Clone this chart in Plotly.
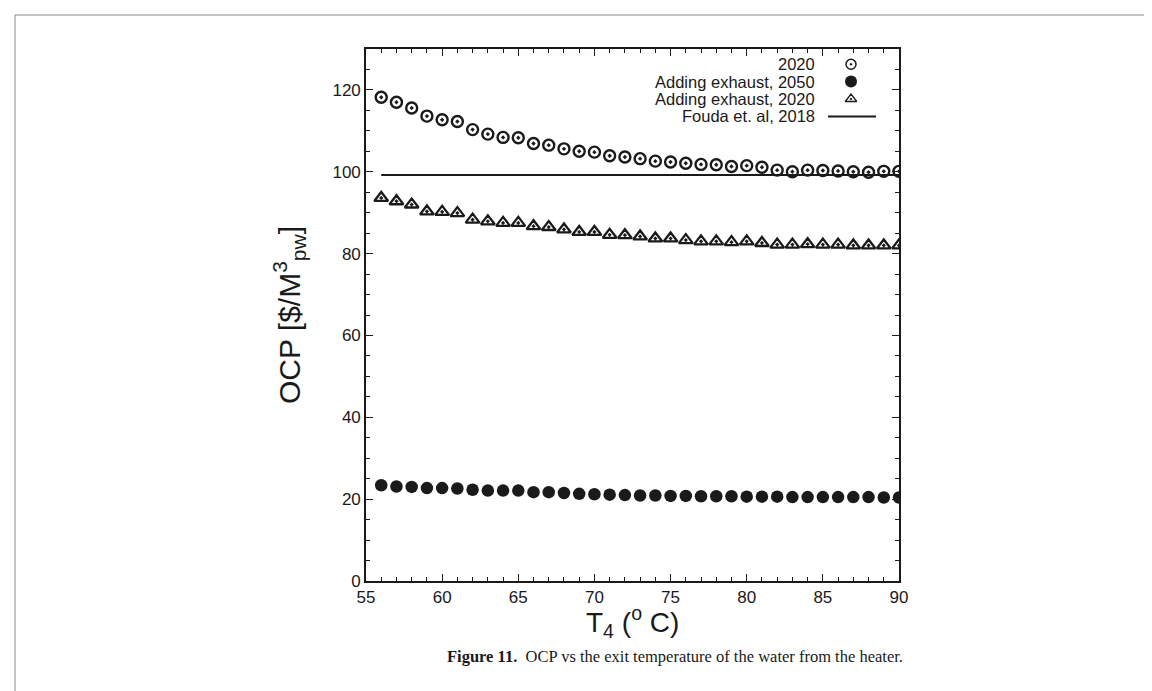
import plotly.graph_objects as go

# ---------------- data ----------------
temps = list(range(56, 91))
ocp_2020 = [118.2, 117.0, 115.6, 113.6, 112.7, 112.3, 110.3, 109.2, 108.4, 108.3,
            106.9, 106.5, 105.6, 105.0, 104.8, 103.9, 103.6, 103.2, 102.6, 102.4,
            102.1, 101.8, 101.7, 101.3, 101.5, 101.1, 100.4, 100.0, 100.4, 100.3,
            100.2, 100.0, 99.9, 100.1, 100.1]
ocp_exh_2050 = [23.4, 23.1, 23.0, 22.7, 22.7, 22.6, 22.3, 22.1, 22.1, 22.1,
                21.7, 21.7, 21.5, 21.3, 21.2, 21.1, 21.0, 20.9, 20.9, 20.8,
                20.8, 20.7, 20.7, 20.7, 20.6, 20.6, 20.6, 20.5, 20.5, 20.5,
                20.5, 20.5, 20.5, 20.4, 20.4]
ocp_exh_2020 = [93.6, 92.8, 92.0, 90.3, 90.2, 89.9, 88.3, 87.9, 87.5, 87.5,
                86.7, 86.5, 85.9, 85.3, 85.3, 84.6, 84.5, 84.2, 83.7, 83.7,
                83.3, 83.0, 83.0, 82.8, 83.0, 82.6, 82.2, 82.2, 82.3, 82.2,
                82.2, 82.0, 82.0, 82.0, 82.0]
fouda_x = [56, 90]
fouda_y = [99.2, 99.2]

legend_labels = ["2020", "Adding exhaust, 2050", "Adding exhaust, 2020", "Fouda et. al, 2018"]

x_range = [55, 90]
y_range = [0, 130]

# ---------------- layout geometry ----------------
W, H = 1152, 691
L, R, T, B = 358, 891, 41, 573
INK = "#1a1a1a"
FONT = "Liberation Sans, Arial, Helvetica, sans-serif"


def px_x(px):
    return (px - L) / (R - L)


def px_y(py):
    return (B - py) / (B - T)


fig = go.Figure()

fig.add_trace(go.Scatter(x=fouda_x, y=fouda_y, mode="lines",
                         line=dict(color=INK, width=2), showlegend=False))
fig.add_trace(go.Scatter(x=temps, y=ocp_2020, mode="markers",
                         marker=dict(symbol="circle-open-dot", size=11, color=INK,
                                     line=dict(width=2.4, color=INK)),
                         showlegend=False))
fig.add_trace(go.Scatter(x=temps, y=ocp_exh_2050, mode="markers",
                         marker=dict(symbol="circle", size=12.5, color=INK,
                                     line=dict(width=0)),
                         showlegend=False))
fig.add_trace(go.Scatter(x=temps, y=ocp_exh_2020, mode="markers",
                         marker=dict(symbol="triangle-up-open-dot", size=12, color=INK,
                                     line=dict(width=2.3, color=INK)),
                         showlegend=False))

# ----- manual legend (text right, symbol on right) -----
leg_rows = [56.2, 73.6, 91.0, 108.4]
leg_text_right = 808
leg_sym_x = 843
leg_syms = [("circle-open-dot", 10, 1.5), ("circle", 12, 0), ("triangle-up-open-dot", 10, 1.3)]
annotations = []
for lab, row in zip(legend_labels, leg_rows):
    annotations.append(dict(x=px_x(leg_text_right), y=px_y(row), xref="paper", yref="paper",
                            text=lab, showarrow=False, xanchor="right", yanchor="middle",
                            borderpad=0,
                            font=dict(family=FONT, size=16.5, color=INK)))
for (sym, sz, lw), row in zip(leg_syms, leg_rows[:3]):
    fig.add_trace(go.Scatter(x=[px_x(leg_sym_x)], y=[px_y(row)], mode="markers",
                             xaxis="x2", yaxis="y2", showlegend=False, hoverinfo="skip",
                             marker=dict(symbol=sym, size=sz, color=INK,
                                         line=dict(width=lw, color=INK))))

shapes = [
    dict(type="line", xref="paper", yref="paper", x0=px_x(820), x1=px_x(868),
         y0=px_y(leg_rows[3]), y1=px_y(leg_rows[3]), line=dict(color=INK, width=2)),
    dict(type="rect", xref="paper", yref="paper", x0=px_x(7), x1=px_x(1145),
         y0=px_y(685), y1=px_y(7), line=dict(color="#8a8a8a", width=1)),
]

# axis titles and caption
annotations.append(dict(x=px_x(281), y=0.5, xref="paper", yref="paper",
                        text="OCP [$/M<sup>3</sup><sub>pw</sub>]", textangle=-90,
                        showarrow=False, xanchor="center", yanchor="middle",
                        font=dict(family=FONT, size=30, color=INK)))
annotations.append(dict(x=0.5, y=px_y(614), xref="paper", yref="paper",
                        text="T<sub>4</sub> (<sup>o</sup> C)", showarrow=False,
                        xanchor="center", yanchor="middle",
                        font=dict(family=FONT, size=28, color=INK)))
annotations.append(dict(x=px_x(667), y=px_y(648), xref="paper", yref="paper",
                        text="<b>Figure 11.</b>  OCP vs the exit temperature of the water from the heater.",
                        showarrow=False, xanchor="center", yanchor="middle",
                        font=dict(family="Liberation Serif, Times New Roman, serif", size=16.5, color=INK)))

axis_common = dict(showline=True, linecolor=INK, linewidth=1.6, mirror="allticks",
                   ticks="inside", tickcolor=INK, tickwidth=1.2, ticklen=7,
                   showgrid=False, zeroline=False,
                   tickfont=dict(family=FONT, size=17, color=INK))

fig.update_layout(
    width=W, height=H,
    margin=dict(l=L, r=W - R, t=T, b=H - B, pad=0),
    paper_bgcolor="white", plot_bgcolor="white",
    showlegend=False,
    xaxis=dict(range=x_range, dtick=5, tick0=55,
               minor=dict(dtick=1, ticks="inside", ticklen=4, tickcolor=INK, tickwidth=1),
               **axis_common),
    yaxis=dict(range=y_range, dtick=20, tick0=0,
               minor=dict(dtick=5, ticks="inside", ticklen=4, tickcolor=INK, tickwidth=1),
               **axis_common),
    xaxis2=dict(overlaying="x", range=[0, 1], visible=False, fixedrange=True),
    yaxis2=dict(overlaying="y", range=[0, 1], visible=False, fixedrange=True),
    annotations=annotations,
    shapes=shapes,
)

fig.write_html("out.html")
